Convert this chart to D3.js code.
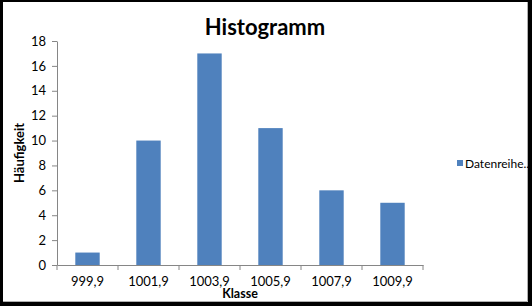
<!DOCTYPE html>
<html>
<head>
<meta charset="utf-8">
<script src="https://cdn.jsdelivr.net/npm/d3@7"></script>
<style>
  html, body { margin: 0; padding: 0; background: #000; }
  svg { display: block; }
</style>
</head>
<body>
<svg width="532" height="306"></svg>
<script>
const classes = ["999,9", "1001,9", "1003,9", "1005,9", "1007,9", "1009,9"];
const counts = [1, 10, 17, 11, 6, 5];
const yTicks = [0, 2, 4, 6, 8, 10, 12, 14, 16, 18];
const seriesName = "Datenreihe..";

const svg = d3.select("svg");
const font = "Lato, 'Open Sans', sans-serif";

// frame
svg.append("rect")
  .attr("width", 532).attr("height", 306)
  .attr("fill", "#000");
svg.append("rect")
  .attr("x", 3).attr("y", 2)
  .attr("width", 525).attr("height", 300)
  .attr("fill", "#fff");
svg.append("path")
  .attr("d", "M527.5,2V301.5H3")
  .attr("fill", "none")
  .attr("stroke", "#b0b0b0");

const plot = { left: 57, right: 423, top: 41, bottom: 265 };

const x = d3.scaleBand()
  .domain(classes)
  .range([plot.left, plot.right])
  .paddingInner(0.6)
  .paddingOuter(0.3);

const xAxisScale = d3.scaleBand()
  .domain(classes)
  .range([plot.left, plot.right]);

const y = d3.scaleLinear()
  .domain([0, 18])
  .range([plot.bottom, plot.top]);

// bars
svg.append("g")
  .selectAll("rect")
  .data(counts)
  .join("rect")
  .attr("x", (d, i) => x(classes[i]))
  .attr("y", d => y(d))
  .attr("width", x.bandwidth())
  .attr("height", d => y(0) - y(d))
  .attr("fill", "#4f81bd");

// y axis
const yAxis = svg.append("g")
  .attr("transform", `translate(${plot.left},0)`)
  .call(d3.axisLeft(y).tickValues(yTicks).tickSize(5).tickPadding(6).tickSizeOuter(0));
yAxis.select(".domain").attr("stroke", "#868686");
yAxis.selectAll(".tick line").attr("stroke", "#868686");
yAxis.selectAll(".tick text")
  .attr("font-family", font)
  .attr("font-size", 13)
  .attr("fill", "#000");

// x axis
const xAxis = svg.append("g")
  .attr("transform", `translate(0,${plot.bottom})`)
  .call(d3.axisBottom(xAxisScale).tickSize(0).tickPadding(12));
xAxis.select(".domain").attr("stroke", "#868686");
xAxis.selectAll(".tick text")
  .attr("font-family", font)
  .attr("font-size", 13)
  .attr("fill", "#000");
// boundary ticks between classes
xAxis.selectAll(".sep")
  .data(d3.range(classes.length + 1))
  .join("line")
  .attr("class", "sep")
  .attr("x1", i => plot.left + i * xAxisScale.step())
  .attr("x2", i => plot.left + i * xAxisScale.step())
  .attr("y1", 0)
  .attr("y2", 5)
  .attr("stroke", "#868686");

// title
svg.append("text")
  .attr("x", 265)
  .attr("y", 35)
  .attr("text-anchor", "middle")
  .attr("font-family", font)
  .attr("font-weight", "bold")
  .attr("font-size", 22)
  .text("Histogramm");

// axis titles
svg.append("text")
  .attr("x", (plot.left + plot.right) / 2)
  .attr("y", 298)
  .attr("text-anchor", "middle")
  .attr("font-family", font)
  .attr("font-weight", "bold")
  .attr("font-size", 12.5)
  .text("Klasse");

svg.append("text")
  .attr("transform", `translate(24,${(plot.top + plot.bottom) / 2}) rotate(-90)`)
  .attr("text-anchor", "middle")
  .attr("font-family", font)
  .attr("font-weight", "bold")
  .attr("font-size", 13)
  .text("Häufigkeit");

// legend
const legend = svg.append("g").attr("transform", "translate(457,160)");
legend.append("rect")
  .attr("width", 6).attr("height", 6)
  .attr("fill", "#4f81bd");
legend.append("text")
  .attr("x", 8)
  .attr("y", 8)
  .attr("font-family", font)
  .attr("font-size", 12)
  .text(seriesName);
</script>
</body>
</html>
